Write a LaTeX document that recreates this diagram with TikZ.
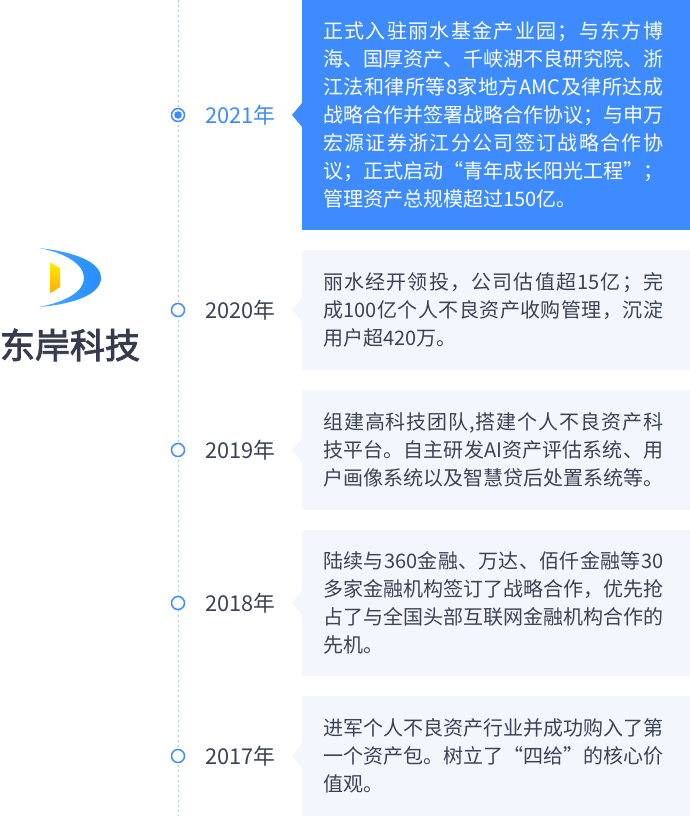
\documentclass[tikz,border=0pt]{standalone}
\usepackage{fontspec}
\setmainfont{Noto Sans CJK SC}
\newfontfamily\logofont[FakeBold=2.5]{Noto Sans CJK SC}
\usetikzlibrary{calc}
\definecolor{mainblue}{HTML}{3D8BFF}
\definecolor{paleblue}{HTML}{F3F6FC}
\definecolor{inkdark}{HTML}{3C4256}
\definecolor{railblue}{HTML}{A8C6EE}
\pgfdeclarehorizontalshading{crescentfade}{100bp}{
  rgb(0bp)=(0.80,0.92,1.00);
  rgb(8bp)=(0.55,0.80,1.00);
  rgb(25bp)=(0.30,0.68,1.00);
  rgb(60bp)=(0.18,0.58,1.00);
  rgb(100bp)=(0.15,0.52,1.00)}
% inter-character stretch so that full lines are justified as in the reference
\newcount\charloop
\charloop="4E00
\loop\ifnum\charloop<"A000
  \XeTeXcharclass\charloop=1
  \advance\charloop by 1
\repeat
\XeTeXcharclass"3001=1 \XeTeXcharclass"3002=1 \XeTeXcharclass"FF0C=1
\XeTeXcharclass"FF1B=1 \XeTeXcharclass"201C=1 \XeTeXcharclass"201D=1
\XeTeXinterchartoks 1 1 = {\hskip 0pt plus 1pt\relax}
\XeTeXinterchartoks 1 0 = {\hskip 0pt plus 1pt\relax}
\XeTeXinterchartoks 0 1 = {\hskip 0pt plus 1pt\relax}
\newcommand{\fullline}[1]{\hbox to 340pt{\XeTeXinterchartokenstate=1 #1}}
\tikzset{
  x=1pt,y=-1pt,
  panel/.style={anchor=north west,minimum width=388pt,inner sep=0pt,outer sep=0pt,fill=paleblue},
  panelon/.style={panel,fill=mainblue},
  tip/.style={fill=paleblue},
  tipon/.style={fill=mainblue},
  bodytext/.style={anchor=west,align=left,inner sep=0pt,text=inkdark,font=\fontsize{20}{28}\selectfont},
  bodyon/.style={bodytext,text=white},
  yeartext/.style={anchor=west,inner sep=0pt,text=inkdark,font=\fontsize{21.8}{24}\selectfont},
  yearon/.style={yeartext,text=mainblue},
  dot/.style={circle,draw=mainblue,line width=1.5pt,fill=white,minimum size=13pt,inner sep=0pt},
  rail/.style={draw=railblue,line width=1pt,dash pattern=on 2pt off 3pt},
}
\begin{document}
\begin{tikzpicture}
\useasboundingbox (0,0) rectangle (690,816);
\coordinate (railtop) at (178,0);
\coordinate (railend) at (178,816);
\draw[rail] (railtop) -- (railend);

% panels
\node[panelon,minimum height=230pt] (p21) at (302,0) {};
\node[panel,minimum height=120pt] (p20) at (302,250) {};
\node[panel,minimum height=120pt] (p19) at (302,390) {};
\node[panel,minimum height=146pt] (p18) at (302,530) {};
\node[panel,minimum height=120pt] (p17) at (302,696) {};

% pointers
\fill[tipon] (302,103) -- (292,115) -- (302,127) -- cycle;
\fill[tip] (302,298) -- (292,310) -- (302,322) -- cycle;
\fill[tip] (302,438) -- (292,450) -- (302,462) -- cycle;
\fill[tip] (302,591) -- (292,603) -- (302,615) -- cycle;
\fill[tip] (302,744) -- (292,756) -- (302,768) -- cycle;

% dots
\node[dot] (d21) at (178,115) {};
\fill[mainblue] (d21.center) circle (3.8);
\node[dot] (d20) at (178,310) {};
\node[dot] (d19) at (178,450) {};
\node[dot] (d18) at (178,603) {};
\node[dot] (d17) at (178,756) {};

% years
\node[yearon] (y21) at (205,115) {2021年};
\node[yeartext] (y20) at (205,310) {2020年};
\node[yeartext] (y19) at (205,450) {2019年};
\node[yeartext] (y18) at (205,603) {2018年};
\node[yeartext] (y17) at (205,756) {2017年};

% texts
\node[bodyon] (t21) at (323,115) {\fullline{正式入驻丽水基金产业园；与东方博}\\\fullline{海、国厚资产、千峡湖不良研究院、浙}\\\fullline{江法和律所等8家地方AMC及律所达成}\\\fullline{战略合作并签署战略合作协议；与申万}\\\fullline{宏源证券浙江分公司签订战略合作协}\\\fullline{议；正式启动“青年成长阳光工程”；}\\管理资产总规模超过150亿。};
\node[bodytext] (t20) at (323,310) {\fullline{丽水经开领投，公司估值超15亿；完}\\\fullline{成100亿个人不良资产收购管理，沉淀}\\用户超420万。};
\node[bodytext] (t19) at (323,450) {\fullline{组建高科技团队,搭建个人不良资产科}\\\fullline{技平台。自主研发AI资产评估系统、用}\\户画像系统以及智慧贷后处置系统等。};
\node[bodytext] (t18) at (323,603) {\fullline{陆续与360金融、万达、佰仟金融等30}\\\fullline{多家金融机构签订了战略合作，优先抢}\\\fullline{占了与全国头部互联网金融机构合作的}\\先机。};
\node[bodytext] (t17) at (323,756) {\fullline{进军个人不良资产行业并成功购入了第}\\\fullline{一个资产包。树立了“四给”的核心价}\\值观。};

% logo
\begin{scope}
\clip (39,248) .. controls (75,252) and (101,262) .. (101,278)
      .. controls (101,294) and (75,304) .. (39,307)
      .. controls (65,302) and (84,292) .. (84,278)
      .. controls (84,264) and (65,253) .. (39,248) -- cycle;
\shade[shading=crescentfade] (39,245) rectangle (102,310);
\end{scope}
\shade[top color=yellow!85!orange,bottom color=orange!65!yellow,shading angle=0]
  (50.7,262.7) -- (60,268) -- (60,287) -- (50.7,293) -- cycle;
\node[anchor=center,inner sep=0pt,text=inkdark!90!black,font=\fontsize{35}{40}\selectfont\logofont] (logotext) at (70,345) {东岸科技};
\end{tikzpicture}
\end{document}
